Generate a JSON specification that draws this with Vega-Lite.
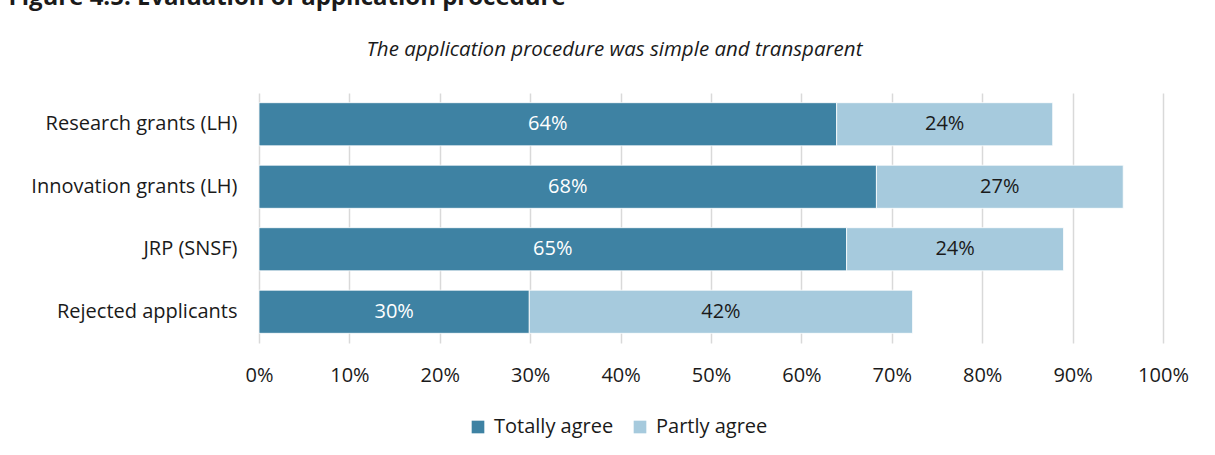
{
  "$schema": "https://vega.github.io/schema/vega-lite/v6.json",
  "width": 904,
  "height": 250,
  "autosize": {"type": "none"},
  "padding": {"left": 259, "top": 93, "right": 52, "bottom": 112},
  "background": "white",
  "config": {
    "font": "Open Sans",
    "view": {"stroke": null},
    "axis": {"labelFontSize": 20, "labelColor": "#1a1a1a", "domain": false, "ticks": false}
  },
  "data": {
    "values": [
      {"category": "Research grants (LH)", "type": "Totally agree", "value": 0.639},
      {"category": "Research grants (LH)", "type": "Partly agree", "value": 0.239},
      {"category": "Innovation grants (LH)", "type": "Totally agree", "value": 0.683},
      {"category": "Innovation grants (LH)", "type": "Partly agree", "value": 0.273},
      {"category": "JRP (SNSF)", "type": "Totally agree", "value": 0.65},
      {"category": "JRP (SNSF)", "type": "Partly agree", "value": 0.24},
      {"category": "Rejected applicants", "type": "Totally agree", "value": 0.299},
      {"category": "Rejected applicants", "type": "Partly agree", "value": 0.424}
    ]
  },
  "transform": [
    {"stack": "value", "groupby": ["category"], "sort": [{"field": "type", "order": "descending"}], "as": ["x0", "x1"]},
    {"calculate": "(datum.x0 + datum.x1) / 2", "as": "mid"}
  ],
  "encoding": {
    "y": {
      "field": "category",
      "type": "nominal",
      "sort": ["Research grants (LH)", "Innovation grants (LH)", "JRP (SNSF)", "Rejected applicants"],
      "scale": {"paddingInner": 0.31, "paddingOuter": 0.155},
      "axis": {
        "labelPadding": 22,
        "labelLimit": 0,
        "title": "Figure 4.5: Evaluation of application procedure",
        "titleAngle": 0,
        "titleX": -251,
        "titleY": -89,
        "titleAlign": "left",
        "titleBaseline": "alphabetic",
        "titleFontSize": 24,
        "titleFontWeight": "bold",
        "titleColor": "#1a1a1a",
        "titleLimit": 0
      }
    }
  },
  "resolve": {"axis": {"x": "independent"}},
  "layer": [
    {
      "mark": {"type": "bar", "stroke": "white", "strokeWidth": 0.8},
      "encoding": {
        "x": {
          "field": "x0",
          "type": "quantitative",
          "scale": {"domain": [0, 1], "nice": false},
          "axis": {
            "title": null,
            "format": ".0%",
            "values": [0, 0.1, 0.2, 0.3, 0.4, 0.5, 0.6, 0.7, 0.8, 0.9, 1],
            "grid": true,
            "gridColor": "#d9d9d9",
            "gridWidth": 1.5,
            "labelPadding": 22,
            "labelFlush": false,
            "labelOverlap": false
          }
        },
        "x2": {"field": "x1"},
        "color": {
          "field": "type",
          "type": "nominal",
          "scale": {"domain": ["Totally agree", "Partly agree"], "range": ["#3e82a3", "#a6cadd"]},
          "legend": {
            "title": null,
            "orient": "none",
            "direction": "horizontal",
            "legendX": 209,
            "legendY": 324,
            "padding": 0,
            "symbolType": "square",
            "symbolSize": 160,
            "symbolStrokeWidth": 0,
            "labelFontSize": 20,
            "labelColor": "#1a1a1a",
            "labelOffset": 6,
            "columnPadding": 16
          }
        }
      }
    },
    {
      "mark": {"type": "text", "fontSize": 20, "baseline": "middle"},
      "encoding": {
        "x": {
          "field": "mid",
          "type": "quantitative",
          "axis": {
            "orient": "top",
            "labels": false,
            "grid": false,
            "ticks": false,
            "domain": false,
            "title": "The application procedure was simple and transparent",
            "titleFontStyle": "italic",
            "titleFontWeight": "normal",
            "titleFontSize": 20.5,
            "titleColor": "#1a1a1a",
            "titleX": 355,
            "titleY": -38,
            "titleAlign": "center",
            "titleBaseline": "alphabetic",
            "titleLimit": 0
          }
        },
        "text": {"field": "value", "type": "quantitative", "format": ".0%"},
        "color": {"condition": {"test": "datum.type === 'Totally agree'", "value": "white"}, "value": "#1a1a1a"}
      }
    }
  ]
}
